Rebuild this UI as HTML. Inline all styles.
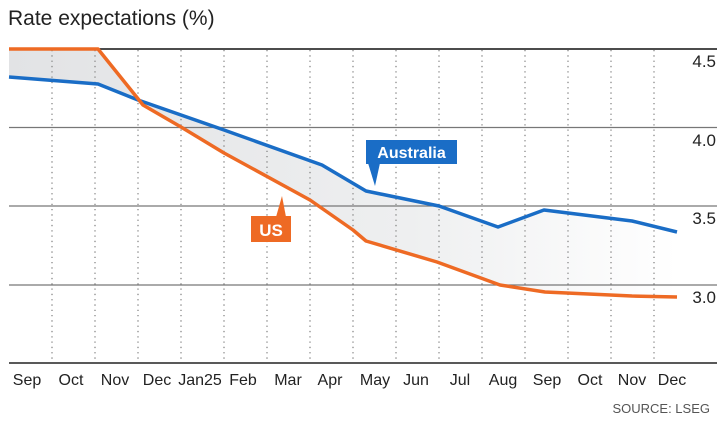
<!DOCTYPE html>
<html><head><meta charset="utf-8"><style>
html,body{margin:0;padding:0;background:#fff;}
svg{display:block;font-family:"Liberation Sans",sans-serif;}
</style></head><body>
<svg width="727" height="424" viewBox="0 0 727 424" xmlns="http://www.w3.org/2000/svg">
<defs>
<linearGradient id="g" x1="0" x2="1" y1="0" y2="0">
<stop offset="0" stop-color="#e2e3e5"/><stop offset="0.6" stop-color="#eeeff0"/><stop offset="1" stop-color="#ffffff"/>
</linearGradient>
</defs>
<text x="8" y="25" font-size="21" fill="#222">Rate expectations (%)</text>
<!-- fill -->
<polygon fill="url(#g)" points="9,77 98,84 138,100 224,130 322,165 366,191 439,206 498,227 544,210 632,221 677,232 677,297 632,296 545,292 500,285 437,262 366,241 353,230 310,200 224,153 181,127 143,105 98,49 9,49"/>
<!-- dotted verticals -->
<g stroke="#888" stroke-width="1.3" stroke-dasharray="1.3,4">
<line x1="52" y1="50" x2="52" y2="363"/><line x1="95" y1="50" x2="95" y2="363"/><line x1="138" y1="50" x2="138" y2="363"/><line x1="181" y1="50" x2="181" y2="363"/><line x1="224" y1="50" x2="224" y2="363"/><line x1="267" y1="50" x2="267" y2="363"/><line x1="310" y1="50" x2="310" y2="363"/><line x1="353" y1="50" x2="353" y2="363"/><line x1="396" y1="50" x2="396" y2="363"/><line x1="439" y1="50" x2="439" y2="363"/><line x1="482" y1="50" x2="482" y2="363"/><line x1="525" y1="50" x2="525" y2="363"/><line x1="568" y1="50" x2="568" y2="363"/><line x1="611" y1="50" x2="611" y2="363"/><line x1="654" y1="50" x2="654" y2="363"/>
</g>
<line x1="9" y1="49" x2="717" y2="49" stroke="#111" stroke-width="1.5"/>
<g stroke="#777" stroke-width="1.3">
<line x1="9" y1="127.5" x2="717" y2="127.5"/><line x1="9" y1="206" x2="717" y2="206"/><line x1="9" y1="285" x2="717" y2="285"/>
</g>
<line x1="9" y1="363" x2="717" y2="363" stroke="#222" stroke-width="1.5"/>
<g font-size="17" fill="#222" text-anchor="end">
<text x="716" y="67">4.5</text><text x="716" y="146">4.0</text><text x="716" y="224">3.5</text><text x="716" y="303">3.0</text>
</g>
<polyline fill="none" stroke="#1a6dc6" stroke-width="3.5" stroke-linejoin="round" points="9,77 98,84 138,100 224,130 322,165 366,191 439,206 498,227 544,210 632,221 677,232"/>
<polyline fill="none" stroke="#ee6a24" stroke-width="3.5" stroke-linejoin="round" points="9,49 98,49 143,105 181,127 224,153 310,200 353,230 366,241 437,262 500,285 545,292 632,296 677,297"/>
<!-- labels -->
<rect x="366" y="140" width="91" height="24" fill="#1a6dc6"/>
<polygon points="368,163 380,163 375,186" fill="#1a6dc6"/>
<text x="411.5" y="158" font-size="16" font-weight="bold" fill="#fff" text-anchor="middle">Australia</text>
<rect x="251" y="216" width="40" height="26" fill="#ee6a24"/>
<polygon points="276,217 286,217 282,196" fill="#ee6a24"/>
<text x="271" y="236" font-size="17" font-weight="bold" fill="#fff" text-anchor="middle">US</text>
<g font-size="16" fill="#222" text-anchor="middle">
<text x="27" y="385">Sep</text><text x="71" y="385">Oct</text><text x="115" y="385">Nov</text><text x="157" y="385">Dec</text><text x="200" y="385">Jan25</text><text x="243" y="385">Feb</text><text x="288" y="385">Mar</text><text x="330" y="385">Apr</text><text x="375" y="385">May</text><text x="416" y="385">Jun</text><text x="460" y="385">Jul</text><text x="503" y="385">Aug</text><text x="547" y="385">Sep</text><text x="590" y="385">Oct</text><text x="632" y="385">Nov</text><text x="672" y="385">Dec</text>
</g>
<text x="710" y="413" font-size="13" fill="#555" text-anchor="end">SOURCE: LSEG</text>
</svg>
</body></html>
